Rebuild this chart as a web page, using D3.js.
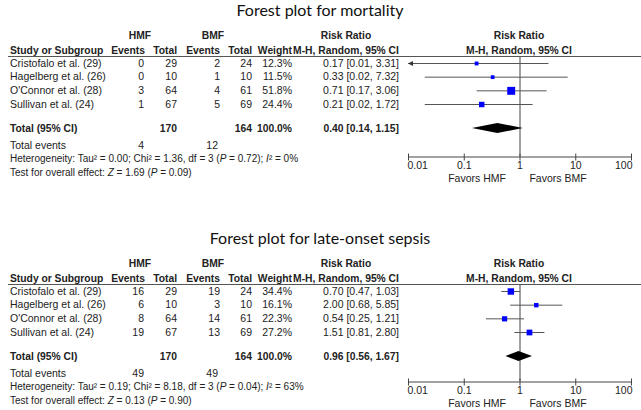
<!DOCTYPE html>
<html>
<head>
<meta charset="utf-8">
<script src="https://cdn.jsdelivr.net/npm/d3@7"></script>
<style>
  html, body { margin: 0; padding: 0; background: #fff; }
  svg { display: block; }
</style>
</head>
<body>
<svg id="chart" width="641" height="410"></svg>
<script>
// ---------- data ----------
const studies = ["Cristofalo et al. (29)", "Hagelberg et al. (26)", "O'Connor et al. (28)", "Sullivan et al. (24)"];
const hmfTotal = [29, 10, 64, 67];
const bmfTotal = [24, 10, 61, 69];

const mortTitle = "Forest plot for mortality";
const mortHmfEvents = [0, 0, 3, 1];
const mortBmfEvents = [2, 1, 4, 5];
const mortWeight = [12.3, 11.5, 51.8, 24.4];
const mortRR = [0.17, 0.33, 0.71, 0.21];
const mortLo = [0.01, 0.02, 0.17, 0.02];
const mortHi = [3.31, 7.32, 3.06, 1.72];
const mortPooled = [0.40, 0.14, 1.15];
const mortTotalEvents = [4, 12];
const mortHet = ["0.00", "1.36", "3", "0.72", "0%"];
const mortTest = ["1.69", "0.09"];

const sepTitle = "Forest plot for late-onset sepsis";
const sepHmfEvents = [16, 6, 8, 19];
const sepBmfEvents = [19, 3, 14, 13];
const sepWeight = [34.4, 16.1, 22.3, 27.2];
const sepRR = [0.70, 2.00, 0.54, 1.51];
const sepLo = [0.47, 0.68, 0.25, 0.81];
const sepHi = [1.03, 5.85, 1.21, 2.80];
const sepPooled = [0.96, 0.56, 1.67];
const sepTotalEvents = [49, 49];
const sepHet = ["0.19", "8.18", "3", "0.04", "63%"];
const sepTest = ["0.13", "0.90"];

const totals = [170, 164];
const tickValues = [0.01, 0.1, 1, 10, 100];
const tickLabels = ["0.01", "0.1", "1", "10", "100"];

// ---------- drawing ----------
const svg = d3.select("#chart");
const FONT = "'Liberation Sans', Arial, sans-serif";
const FS = 10.5;
const FSB = 10.3;
const FSS = 10;
const TXT = "#222";

const x = d3.scaleLog().domain([0.01, 100]).range([408, 631]);
const y = d3.scalePoint().domain(studies).range([63, 104]);
const side = d3.scaleSqrt().domain([0, 100]).range([0, 11]);
const fmt2 = d3.format(".2f");

function ciText(rr, lo, hi) { return fmt2(rr) + " [" + fmt2(lo) + ", " + fmt2(hi) + "]"; }

function panel(offY, axisOff, favOff, title, hmfEv, bmfEv, weight, rr, lo, hi, pooled, totEv, het, test) {
  const g = svg.append("g").attr("transform", `translate(0,${offY})`);
  const t = (x0, y0, s, anchor, bold) => g.append("text")
      .attr("x", x0).attr("y", y0).attr("dy", "0.35em")
      .attr("text-anchor", anchor || "start")
      .attr("font-family", FONT).attr("font-size", bold ? FSB : FS)
      .attr("font-weight", bold ? "bold" : "normal")
      .attr("fill", TXT).text(s);

  // title
  g.append("text").attr("x", 320).attr("y", 10).attr("dy", "0.35em")
    .attr("text-anchor", "middle").attr("font-family", "Lato, 'Open Sans', sans-serif")
    .attr("font-size", 16).attr("fill", "#111").text(title);

  // headers
  t(140, 35, "HMF", "middle", true);
  t(213, 35, "BMF", "middle", true);
  t(346, 35, "Risk Ratio", "middle", true);
  t(519, 35, "Risk Ratio", "middle", true);
  t(10, 50, "Study or Subgroup", "start", true);
  t(145, 50, "Events", "end", true);
  t(177, 50, "Total", "end", true);
  t(220, 50, "Events", "end", true);
  t(252, 50, "Total", "end", true);
  t(292, 50, "Weight", "end", true);
  t(346, 50, "M-H, Random, 95% CI", "middle", true);
  t(519, 50, "M-H, Random, 95% CI", "middle", true);

  g.append("line").attr("x1", 8).attr("x2", 641).attr("y1", 56.5).attr("y2", 56.5)
    .attr("stroke", "#555").attr("stroke-width", 1);

  // rows
  studies.forEach((s, i) => {
    const yy = y(s);
    t(10, yy, s);
    t(144, yy, hmfEv[i], "end");
    t(177, yy, hmfTotal[i], "end");
    t(220, yy, bmfEv[i], "end");
    t(252, yy, bmfTotal[i], "end");
    t(292, yy, weight[i].toFixed(1) + "%", "end");
    t(399, yy, ciText(rr[i], lo[i], hi[i]), "end");
  });

  // total row
  const yT = 128;
  t(10, yT, "Total (95% CI)", "start", true);
  t(177, yT, totals[0], "end", true);
  t(252, yT, totals[1], "end", true);
  t(292, yT, "100.0%", "end", true);
  t(399, yT, ciText(pooled[0], pooled[1], pooled[2]), "end", true);

  t(10, 145, "Total events");
  t(144, 145, totEv[0], "end");
  t(218, 145, totEv[1], "end");

  const h = g.append("text").attr("x", 10).attr("y", 158).attr("dy", "0.35em")
    .attr("font-family", FONT).attr("font-size", FSS).attr("fill", TXT);
  h.append("tspan").text(`Heterogeneity: Tau² = ${het[0]}; Chi² = ${het[1]}, df = ${het[2]} (`);
  h.append("tspan").attr("font-style", "italic").text("P");
  h.append("tspan").text(` = ${het[3]}); `);
  h.append("tspan").attr("font-style", "italic").text("I");
  h.append("tspan").text(`² = ${het[4]}`);

  const tt = g.append("text").attr("x", 10).attr("y", 172).attr("dy", "0.35em")
    .attr("font-family", FONT).attr("font-size", FSS).attr("fill", TXT);
  tt.append("tspan").text("Test for overall effect: ");
  tt.append("tspan").attr("font-style", "italic").text("Z");
  tt.append("tspan").text(` = ${test[0]} (`);
  tt.append("tspan").attr("font-style", "italic").text("P");
  tt.append("tspan").text(` = ${test[1]})`);

  // plot
  const axisY = 156 + axisOff;
  g.append("line").attr("x1", x(1) + 0.5).attr("x2", x(1) + 0.5)
    .attr("y1", 57).attr("y2", axisY).attr("stroke", "#444").attr("stroke-width", 1);

  studies.forEach((s, i) => {
    const yy = y(s) + 0.5;
    const x1 = Math.max(x(lo[i]), x(0.01)), x2 = Math.min(x(hi[i]), x(100));
    g.append("line").attr("x1", x1).attr("x2", x2).attr("y1", yy).attr("y2", yy)
      .attr("stroke", "#555").attr("stroke-width", 1);
    if (lo[i] <= 0.01) {
      g.append("path")
        .attr("d", `M${x(0.01)},${yy} l5,-2.5 l0,5 Z`)
        .attr("fill", "#333");
    }
    const sd = Math.max(3, side(weight[i]));
    g.append("rect").attr("x", x(rr[i]) - sd / 2).attr("y", yy - sd / 2)
      .attr("width", sd).attr("height", sd).attr("fill", "#0000ff");
  });

  const dy = 5;
  g.append("path")
    .attr("d", `M${x(pooled[1])},${yT} L${x(pooled[0])},${yT - dy} L${x(pooled[2])},${yT} L${x(pooled[0])},${yT + dy} Z`)
    .attr("fill", "#000");

  // axis
  const ax = g.append("g").attr("transform", `translate(0,${axisY + 0.5})`)
    .call(d3.axisBottom(x).tickValues(tickValues)
      .tickFormat((d, i) => tickLabels[i]).tickSizeInner(4).tickSizeOuter(0).tickPadding(1));
  ax.select(".domain").attr("stroke", "#444");
  ax.selectAll(".tick line").attr("y1", -3).attr("stroke", "#444");
  ax.selectAll(".tick text").attr("font-family", FONT).attr("font-size", FS).attr("fill", TXT)
    .attr("text-anchor", (d, i) => i === 0 ? "start" : (i === tickValues.length - 1 ? "end" : "middle"))
    .attr("dx", (d, i) => i === 0 ? -1 : (i === tickValues.length - 1 ? 1 : 0));
  ax.attr("font-size", null).attr("font-family", null);

  g.append("text").attr("x", 477).attr("y", 178 + favOff).attr("dy", "0.35em")
    .attr("text-anchor", "middle").attr("font-family", FONT).attr("font-size", FS)
    .attr("fill", TXT).text("Favors HMF");
  g.append("text").attr("x", 558).attr("y", 178 + favOff).attr("dy", "0.35em")
    .attr("text-anchor", "middle").attr("font-family", FONT).attr("font-size", FS)
    .attr("fill", TXT).text("Favors BMF");
}

panel(0, 0, 0, mortTitle, mortHmfEvents, mortBmfEvents, mortWeight, mortRR, mortLo, mortHi, mortPooled, mortTotalEvents, mortHet, mortTest);
panel(228, -3, -3, sepTitle, sepHmfEvents, sepBmfEvents, sepWeight, sepRR, sepLo, sepHi, sepPooled, sepTotalEvents, sepHet, sepTest);
</script>
</body>
</html>
